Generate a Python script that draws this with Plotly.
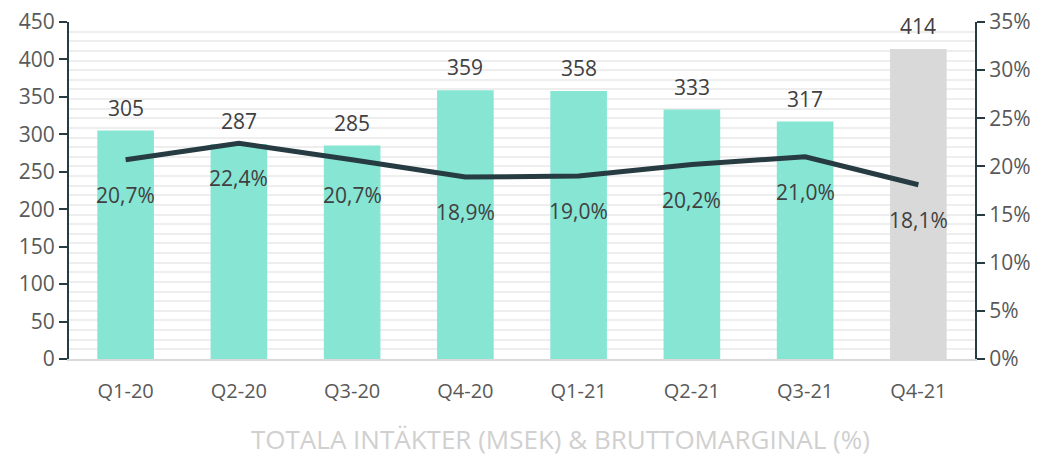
import plotly.graph_objects as go

categories = ["Q1-20", "Q2-20", "Q3-20", "Q4-20", "Q1-21", "Q2-21", "Q3-21", "Q4-21"]
revenue = [305, 287, 285, 359, 358, 333, 317, 414]
margin = [0.207, 0.224, 0.207, 0.189, 0.190, 0.202, 0.210, 0.181]
revenue_labels = ["305", "287", "285", "359", "358", "333", "317", "414"]
margin_labels = ["20,7%", "22,4%", "20,7%", "18,9%", "19,0%", "20,2%", "21,0%", "18,1%"]
left_ticks = [0, 50, 100, 150, 200, 250, 300, 350, 400, 450]
right_ticks = [0, 0.05, 0.10, 0.15, 0.20, 0.25, 0.30, 0.35]
right_tick_text = ["0%", "5%", "10%", "15%", "20%", "25%", "30%", "35%"]

FONT = "Open Sans"
TEAL = "#87e5d4"
GREY_BAR = "#d9d9d9"
DARK = "#263b42"
TXT = "#595959"

bar_colors = [TEAL] * 7 + [GREY_BAR]

fig = go.Figure()
fig.add_trace(go.Bar(x=categories, y=revenue, marker=dict(color=bar_colors, line=dict(width=0)),
                     yaxis="y", showlegend=False, hoverinfo="skip"))
fig.add_trace(go.Scatter(x=categories, y=margin, yaxis="y2", mode="lines",
                         line=dict(color=DARK, width=5), showlegend=False, hoverinfo="skip"))

annotations = []
for c, v, t in zip(categories, revenue, revenue_labels):
    annotations.append(dict(x=c, y=v, xref="x", yref="y", text=t, showarrow=False,
                            yanchor="bottom", yshift=7,
                            font=dict(family=FONT, size=21, color="#404040")))
for c, v, t in zip(categories, margin, margin_labels):
    annotations.append(dict(x=c, y=v, xref="x", yref="y2", text=t, showarrow=False,
                            yanchor="middle", yshift=-35,
                            font=dict(family=FONT, size=21, color="#404040")))
annotations.append(dict(x=0.543, y=-0.237, xref="paper", yref="paper",
                        text="TOTALA INTÄKTER (MSEK) &amp; BRUTTOMARGINAL (%)",
                        showarrow=False, xanchor="center", yanchor="middle",
                        font=dict(family=FONT, size=26, color="#d0d0d0")))

fig.update_layout(
    width=1033, height=449,
    margin=dict(l=61, r=66, t=14, b=98, autoexpand=False),
    paper_bgcolor="white", plot_bgcolor="white",
    bargap=0.5,
    font=dict(family=FONT, size=20, color=TXT),
    xaxis=dict(showline=True, linecolor="#d9d9d9", linewidth=2, showgrid=False, automargin=False,
               ticks="", tickfont=dict(family=FONT, size=20, color=TXT), ticklabelstandoff=13),
    yaxis=dict(range=[0, 450], tickvals=left_ticks, showgrid=False, zeroline=False, automargin=False,
               showline=True, linecolor=DARK, linewidth=2, ticks="outside", ticklen=8,
               tickcolor=DARK, tickwidth=2, ticklabeloverflow="allow",
               tickfont=dict(family=FONT, size=21, color=TXT)),
    yaxis2=dict(range=[0, 0.35], tickvals=right_ticks, ticktext=right_tick_text, automargin=False,
                overlaying="y", side="right", showgrid=True, gridcolor="#eeeeee", gridwidth=2,
                minor=dict(dtick=0.01, tick0=0, showgrid=True, gridcolor="#eeeeee", gridwidth=2),
                zeroline=False, showline=True, linecolor=DARK, linewidth=2,
                ticks="outside", ticklen=8, tickcolor=DARK, tickwidth=2, ticklabeloverflow="allow",
                tickfont=dict(family=FONT, size=21, color=TXT)),
    annotations=annotations,
)

fig.write_html("out.html")
